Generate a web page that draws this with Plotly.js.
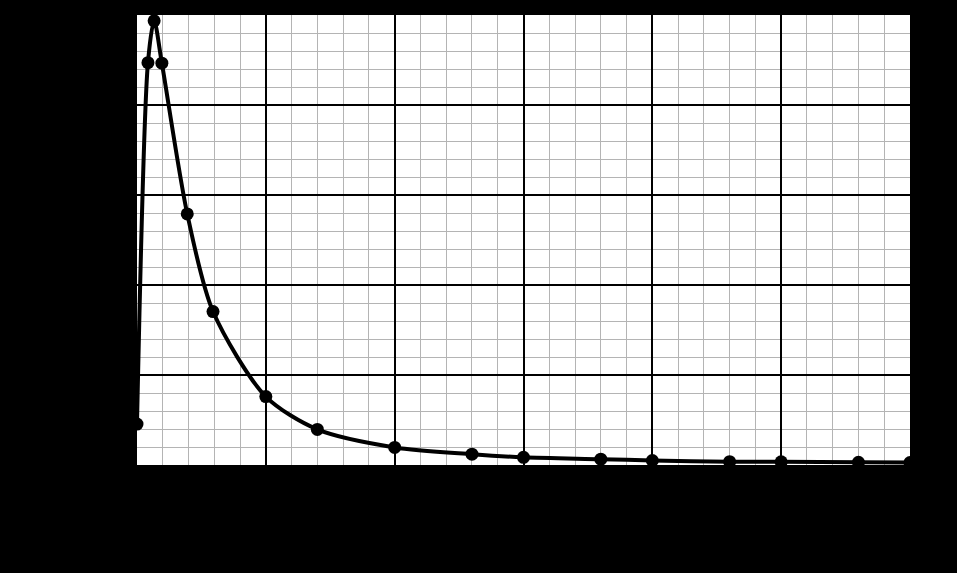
<!DOCTYPE html>
<html>
<head>
<meta charset="utf-8">
<script src="https://cdn.plot.ly/plotly-3.0.1.min.js"></script>
<style>html,body{margin:0;padding:0;background:#000;}#chart{width:957px;height:573px;}</style>
</head>
<body>
<div id="chart"></div>
<script>
var timeValues = [0, 0.85, 1.33, 1.93, 3.9, 5.9, 10, 14, 20, 26, 30, 36, 40, 46, 50, 56, 60];
var concValues = [9.1, 89.4, 98.7, 89.3, 55.8, 34.1, 15.2, 7.9, 3.9, 2.4, 1.7, 1.3, 1.0, 0.75, 0.7, 0.6, 0.55];
var xTicks = [0, 10, 20, 30, 40, 50, 60];
var yTicks = [0, 20, 40, 60, 80, 100];

var trace = {
  x: timeValues,
  y: concValues,
  type: 'scatter',
  mode: 'lines+markers',
  line: {color: '#000', width: 4, shape: 'spline', smoothing: 0.8},
  marker: {color: '#000', size: 13},
  hoverinfo: 'skip'
};

var layout = {
  width: 957, height: 573,
  paper_bgcolor: '#000',
  plot_bgcolor: '#fff',
  margin: {l: 137, r: 47, t: 15, b: 108},
  showlegend: false,
  font: {family: 'DejaVu Sans, sans-serif', color: '#000', size: 14},
  xaxis: {
    range: [0, 60],
    tickvals: xTicks,
    ticktext: xTicks.map(String),
    showgrid: true, gridcolor: '#000', gridwidth: 2,
    minor: {dtick: 2, showgrid: true, gridcolor: '#b4b4b4', gridwidth: 1},
    zeroline: false, showline: true, linecolor: '#000', linewidth: 4,
    tickfont: {color: '#000'}
  },
  yaxis: {
    range: [0, 100],
    tickvals: yTicks,
    ticktext: yTicks.map(String),
    showgrid: true, gridcolor: '#000', gridwidth: 2,
    minor: {dtick: 4, showgrid: true, gridcolor: '#b4b4b4', gridwidth: 1},
    zeroline: false, showline: true, linecolor: '#000', linewidth: 4,
    tickfont: {color: '#000'}
  }
};

Plotly.newPlot('chart', [trace], layout, {displayModeBar: false, staticPlot: true});
</script>
</body>
</html>
